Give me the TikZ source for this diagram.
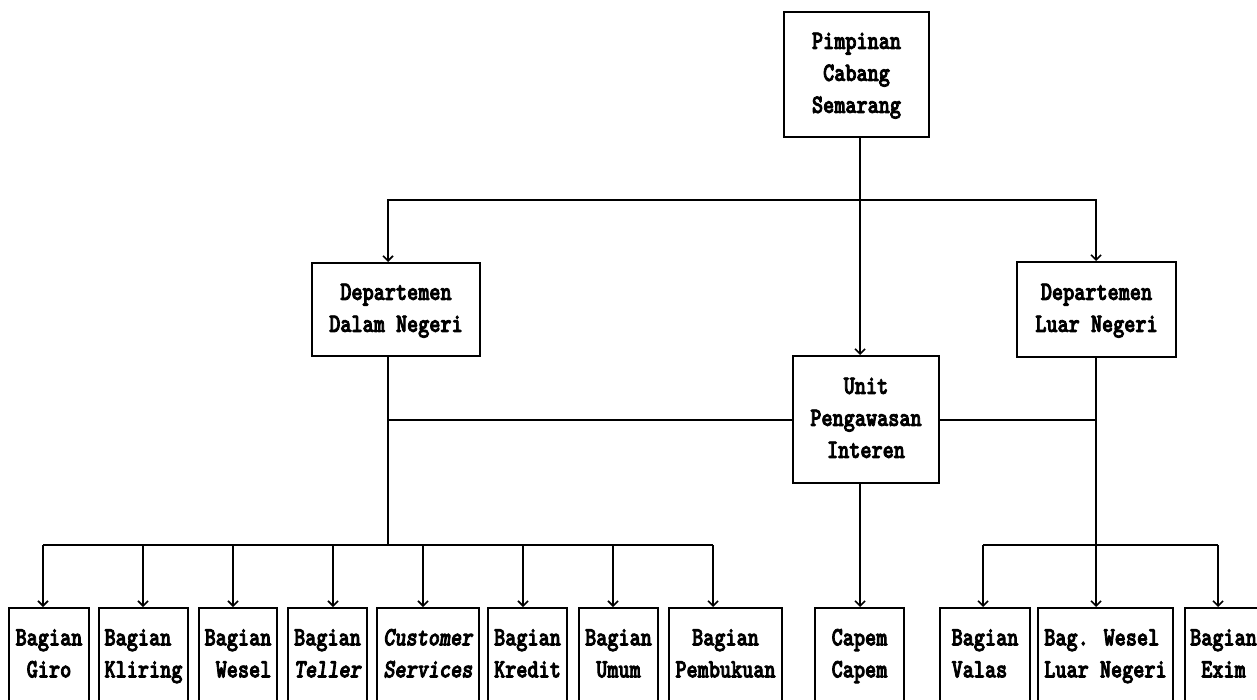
\documentclass[tikz,border=0pt]{standalone}
\usepackage{fontspec}
\newfontfamily\mf{lmmonolt10-bold}[Extension=.otf, ItalicFont=lmmonolt10-boldoblique, FakeStretch=0.8, FakeBold=3]
\usetikzlibrary{arrows.meta}
\tikzset{
  box/.style={draw, line width=2pt, inner sep=0pt, align=center,
    font=\mf\fontsize{26.5}{32}\selectfont},
  conn/.style={line width=2pt},
  arr/.style={conn, -{Straight Barb[length=5pt,width=10pt,line width=1.6pt]}}
}
\begin{document}
\begin{tikzpicture}[x=1pt,y=-1pt]
\useasboundingbox (0,0) rectangle (1257,699);
\fill[white] (0,0) rectangle (1257,699);
% upper boxes
\node[box, minimum width=145pt, minimum height=125pt] (top) at (856.5,74.5) {\strut Pimpinan\\\strut Cabang\\\strut Semarang};
\node[box, minimum width=168pt, minimum height=93pt] (dl) at (396,309.5) {\strut Departemen\\\strut Dalam Negeri};
\node[box, minimum width=159pt, minimum height=95pt] (dr) at (1096.5,309.5) {\strut Departemen\\\strut Luar Negeri};
\node[box, minimum width=146pt, minimum height=127pt] (unit) at (866,419.5) {\strut Unit\\\strut Pengawasan\\\strut Interen};
% bottom boxes (top at 608, extend past the lower edge)
\tikzset{bbox/.style={box, minimum height=94pt}}
\node[bbox, minimum width=80pt] (giro) at (49,655) {\strut Bagian\\\strut Giro};
\node[bbox, minimum width=89pt, align=left] (kliring) at (143.5,655) {\strut Bagian\\\strut Kliring};
\node[bbox, minimum width=78pt, align=right] (wesel) at (238,655) {\strut Bagian\\\strut Wesel};
\node[bbox, minimum width=79pt] (teller) at (327.5,655) {\strut Bagian\\\strut\itshape Teller};
\node[bbox, minimum width=102pt] (cs) at (428,655) {\strut\itshape Customer\\\strut\itshape Services};
\node[bbox, minimum width=79pt] (kredit) at (527.5,655) {\strut Bagian\\\strut Kredit};
\node[bbox, minimum width=79pt] (umum) at (618.5,655) {\strut Bagian\\\strut Umum};
\node[bbox, minimum width=113pt] (pemb) at (725.5,655) {\strut Bagian\\\strut Pembukuan};
\node[bbox, minimum width=89pt] (capem) at (859.5,655) {\strut Capem\\\strut Capem};
\node[bbox, minimum width=90pt, align=left] (valas) at (985,655) {\strut Bagian\\\strut Valas};
\node[bbox, minimum width=135pt, align=left] (wln) at (1105.5,655) {\strut Bag. Wesel\\\strut Luar Negeri};
\node[bbox, minimum width=77pt] (exim) at (1223.5,655) {\strut Bagian\\\strut Exim};
% junction coordinates
\coordinate (c) at (860,200);
\coordinate (jl) at (388,200);
\coordinate (jr) at (1096,200);
\coordinate (vl) at (388,545);
\coordinate (vr) at (1096,545);
% top level
\draw[arr] (top.south -| c) -- (unit.north -| c);
\draw[arr] (c) -- (jl) -- (jl |- dl.north);
\draw[arr] (c) -- (jr) -- (jr |- dr.north);
% departments down
\draw[conn] (jl |- dl.south) -- (vl);
\draw[arr] (jr |- dr.south) -- (vr) -- (vr |- wln.north);
\draw[conn] (unit.west) -- (unit.west -| vl);
\draw[conn] (unit.east) -- (unit.east -| vr);
\draw[arr] (unit.south -| c) -- (capem.north -| c);
% left bus
\coordinate (bl) at (43,545);
\coordinate (br) at (713,545);
\draw[conn] (bl) -- (br);
\draw[arr] (bl) -- (bl |- giro.north);
\foreach \x/\n in {143/kliring,233/wesel,333/teller,423/cs,523/kredit,613/umum}
  \draw[arr] (\x,545) -- (\x,545 |- \n.north);
\draw[arr] (br) -- (br |- pemb.north);
% right bus
\coordinate (rl) at (983,545);
\coordinate (rr) at (1218,545);
\draw[conn] (rl) -- (rr);
\draw[arr] (rl) -- (rl |- valas.north);
\draw[arr] (rr) -- (rr |- exim.north);
\end{tikzpicture}
\end{document}
